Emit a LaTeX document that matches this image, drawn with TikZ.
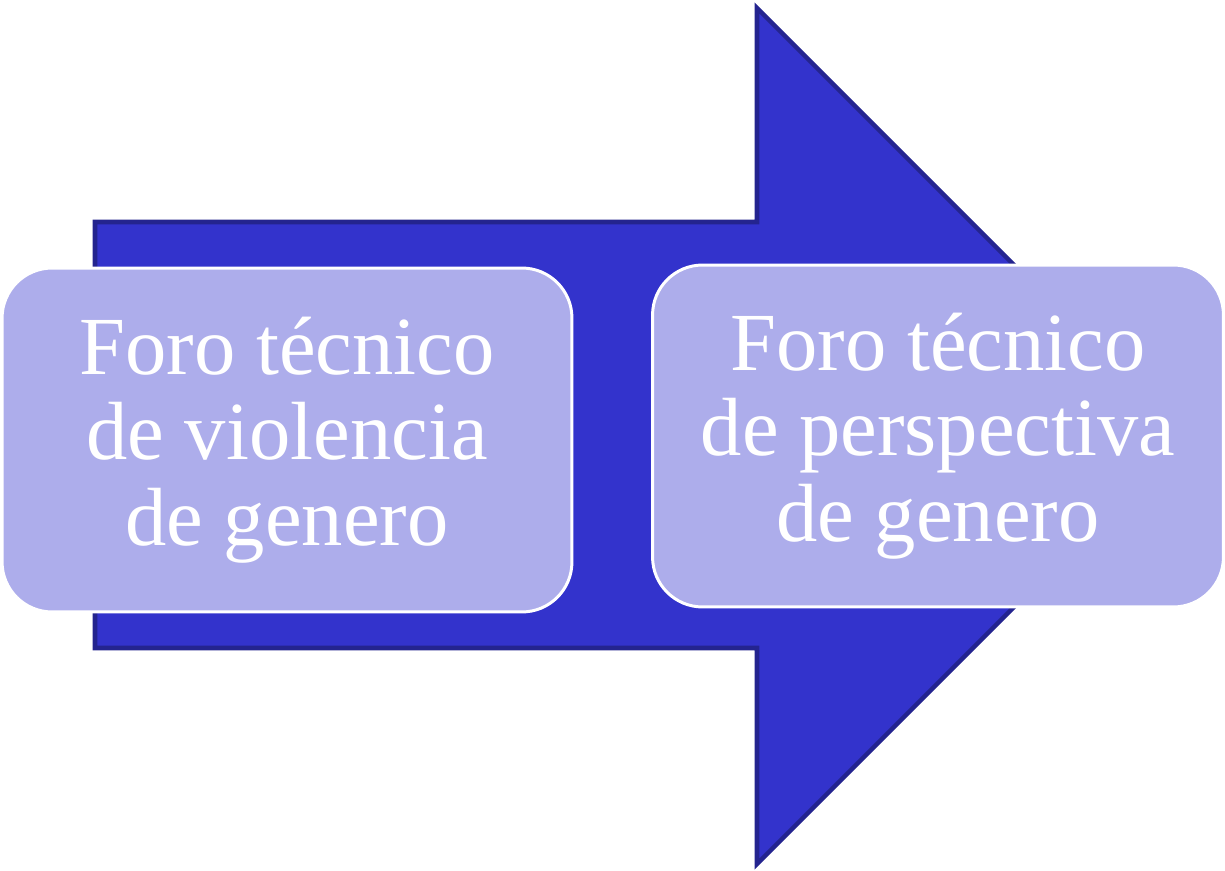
\documentclass[tikz,border=0pt]{standalone}
\usepackage{fontspec}
\setmainfont{Liberation Serif}
\definecolor{arrowblue}{HTML}{3333CC}
\definecolor{arrowedge}{HTML}{24248F}
\definecolor{boxfill}{HTML}{ADADEB}
\tikzset{
    forobox/.style={draw=white, line width=1.7pt, fill=boxfill, rounded corners=1cm,
        text=white, align=center, inner sep=0pt,
        font=\fontsize{47}{48.5}\selectfont},
}
\begin{document}
\begin{tikzpicture}[x=0.02cm, y=-0.02cm]
    \useasboundingbox (0, 0) rectangle (1225, 871);

    % Arrow
    \filldraw[fill=arrowblue, draw=arrowedge, line width=2.6pt, line join=miter]
        (95, 222) -- (757, 222) -- (757, 8) -- (1185, 436)
        -- (757, 864) -- (757, 648) -- (95, 648) -- cycle;

    % Boxes
    \node[forobox, minimum width=11.4cm, minimum height=6.88cm] (violencia) at (287, 440)
        {Foro técnico\\de violencia\\de genero};
    \node[forobox, minimum width=11.42cm, minimum height=6.84cm] (perspectiva) at (938, 436)
        {Foro técnico\\de perspectiva\\de genero};
\end{tikzpicture}
\end{document}
